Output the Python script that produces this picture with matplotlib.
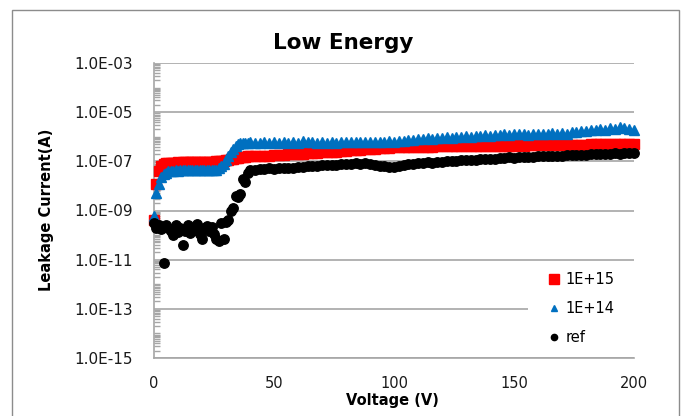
import numpy as np
import matplotlib
matplotlib.use("Agg")
import matplotlib.pyplot as plt
from matplotlib.lines import Line2D
from matplotlib.patches import Rectangle
from matplotlib.ticker import LogLocator, NullFormatter

plt.rcParams['font.family'] = ['DejaVu Sans']

# ---------------- data ----------------
voltage = list(range(0, 41)) + list(range(42, 201, 2))

current_1e15 = [
    4e-10, 1.2e-8, 4e-8, 6.5e-8, 8e-8, 8.4e-8, 8.6e-8, 8.8e-8, 8.7e-8, 8.9e-8,
    9.0e-8, 8.9e-8, 9.1e-8, 9.2e-8, 9.0e-8, 9.3e-8, 9.2e-8, 9.4e-8, 9.3e-8, 9.5e-8,
    9.4e-8, 9.6e-8, 9.5e-8, 9.7e-8, 9.6e-8, 9.8e-8, 9.9e-8, 1.0e-7, 1.02e-7, 1.05e-7,
    1.1e-7, 1.15e-7, 1.2e-7, 1.28e-7, 1.35e-7, 1.42e-7, 1.48e-7, 1.52e-7, 1.55e-7, 1.58e-7,
    1.6e-7,
    # 42..200 step 2
    1.6e-7, 1.62e-7, 1.66e-7, 1.7e-7, 1.75e-7, 1.8e-7, 1.85e-7, 1.9e-7, 1.95e-7, 2.0e-7,
    2.05e-7, 2.1e-7, 2.15e-7, 2.2e-7, 2.3e-7, 2.35e-7, 2.45e-7, 2.5e-7, 2.6e-7, 2.7e-7,
    2.8e-7, 2.9e-7, 3.0e-7, 3.1e-7, 3.2e-7, 3.3e-7, 3.4e-7, 3.5e-7, 3.6e-7, 3.7e-7,
    3.7e-7, 3.75e-7, 3.8e-7, 3.8e-7, 3.85e-7, 3.9e-7, 3.95e-7, 4.0e-7, 4.05e-7, 4.1e-7,
    4.1e-7, 4.15e-7, 4.1e-7, 4.2e-7, 4.2e-7, 4.25e-7, 4.2e-7, 4.3e-7, 4.25e-7, 4.3e-7,
    4.3e-7, 4.35e-7, 4.3e-7, 4.4e-7, 4.4e-7, 4.45e-7, 4.4e-7, 4.5e-7, 4.5e-7, 4.5e-7,
    4.55e-7, 4.6e-7, 4.55e-7, 4.6e-7, 4.65e-7, 4.7e-7, 4.65e-7, 4.75e-7, 4.8e-7, 4.8e-7,
    4.85e-7, 4.9e-7, 4.9e-7, 5.0e-7, 5.0e-7, 5.05e-7, 5.1e-7, 5.1e-7, 5.15e-7, 5.2e-7,
]

current_1e14 = [
    6e-10, 5e-9, 1.2e-8, 2.2e-8, 3e-8, 3.5e-8, 3.9e-8, 4.1e-8, 4.2e-8, 4.3e-8,
    4.2e-8, 4.4e-8, 4.3e-8, 4.4e-8, 4.3e-8, 4.5e-8, 4.4e-8, 4.3e-8, 4.5e-8, 4.4e-8,
    4.3e-8, 4.5e-8, 4.4e-8, 4.4e-8, 4.5e-8, 4.4e-8, 4.6e-8, 5.2e-8, 6.2e-8, 8e-8,
    1.1e-7, 1.6e-7, 2.3e-7, 3.2e-7, 4.2e-7, 5e-7, 5.5e-7, 5.7e-7, 5.8e-7, 5.7e-7,
    5.9e-7,
    # 42..200 step 2
    5.8e-7, 5.5e-7, 6.0e-7, 5.6e-7, 5.9e-7, 5.5e-7, 6.1e-7, 5.7e-7, 6.3e-7, 5.8e-7,
    6.5e-7, 5.9e-7, 6.2e-7, 5.6e-7, 6.0e-7, 5.7e-7, 6.3e-7, 5.8e-7, 6.4e-7, 6.0e-7,
    6.2e-7, 5.9e-7, 6.3e-7, 6.0e-7, 6.2e-7, 6.1e-7, 6.4e-7, 6.2e-7, 6.5e-7, 6.3e-7,
    6.8e-7, 6.6e-7, 7.2e-7, 7.5e-7, 8.0e-7, 7.8e-7, 8.6e-7, 8.4e-7, 9.2e-7, 8.8e-7,
    9.5e-7, 9.2e-7, 1.0e-6, 9.6e-7, 1.05e-6, 1.0e-6, 1.1e-6, 1.05e-6, 1.15e-6, 1.1e-6,
    1.2e-6, 1.15e-6, 1.25e-6, 1.2e-6, 1.3e-6, 1.25e-6, 1.3e-6, 1.22e-6, 1.35e-6, 1.28e-6,
    1.35e-6, 1.3e-6, 1.4e-6, 1.32e-6, 1.4e-6, 1.35e-6, 1.5e-6, 1.55e-6, 1.75e-6, 1.7e-6,
    1.9e-6, 1.85e-6, 2.1e-6, 1.95e-6, 2.3e-6, 2.1e-6, 2.6e-6, 2.2e-6, 2.1e-6, 1.9e-6,
]

current_ref = [
    3e-10, 2e-10, 2.5e-10, 1.8e-10, 7e-12, 2.5e-10, 2e-10, 1.5e-10, 1e-10, 2.5e-10,
    1.3e-10, 2e-10, 4e-11, 1.5e-10, 2.5e-10, 1.2e-10, 2e-10, 1.6e-10, 2.8e-10, 1.1e-10,
    7e-11, 2e-10, 2.4e-10, 1.4e-10, 2.2e-10, 1.1e-10, 7e-11, 6e-11, 3e-10, 7e-11,
    3.5e-10, 4e-10, 1e-9, 1.3e-9, 4e-9, 3.5e-9, 4.5e-9, 2e-8, 1.5e-8, 3.5e-8,
    4.5e-8,
    # 42..200 step 2
    4.5e-8, 5.0e-8, 4.8e-8, 5.2e-8, 5.0e-8, 5.4e-8, 5.2e-8, 5.6e-8, 5.5e-8, 6.0e-8,
    5.8e-8, 6.2e-8, 6.5e-8, 6.3e-8, 6.8e-8, 7.0e-8, 6.8e-8, 7.3e-8, 7.6e-8, 7.5e-8,
    8.0e-8, 8.2e-8, 8.0e-8, 8.3e-8, 7.6e-8, 7.0e-8, 6.5e-8, 6.2e-8, 6.0e-8, 6.1e-8,
    6.5e-8, 7.0e-8, 7.6e-8, 8.0e-8, 8.5e-8, 8.3e-8, 9.0e-8, 8.8e-8, 9.5e-8, 9.8e-8,
    1.0e-7, 1.05e-7, 1.02e-7, 1.1e-7, 1.12e-7, 1.1e-7, 1.18e-7, 1.2e-7, 1.25e-7, 1.22e-7,
    1.3e-7, 1.35e-7, 1.38e-7, 1.45e-7, 1.42e-7, 1.48e-7, 1.52e-7, 1.5e-7, 1.55e-7, 1.6e-7,
    1.58e-7, 1.62e-7, 1.65e-7, 1.7e-7, 1.68e-7, 1.75e-7, 1.78e-7, 1.8e-7, 1.85e-7, 1.82e-7,
    1.9e-7, 1.95e-7, 2.0e-7, 1.98e-7, 2.05e-7, 2.1e-7, 2.05e-7, 2.15e-7, 2.2e-7, 2.25e-7,
]

series_names = ["1E+15", "1E+14", "ref"]
series_colors = ["#ff0000", "#0070c0", "#000000"]

y_ticks = [1e-15, 1e-13, 1e-11, 1e-9, 1e-7, 1e-5, 1e-3]
y_tick_labels = ["1.0E-15", "1.0E-13", "1.0E-11", "1.0E-09", "1.0E-07", "1.0E-05", "1.0E-03"]
x_ticks = [0, 50, 100, 150, 200]

# ---------------- figure ----------------
W, H = 684, 416
fig = plt.figure(figsize=(W / 100, H / 100), dpi=100)
ax = fig.add_axes([154 / W, 1 - 358 / H, 480 / W, 295 / H])

grid_col = "#a6a6a6"
ax.plot(voltage, current_1e15, linestyle="none", marker="s", ms=7.0,
        color=series_colors[0], mec=series_colors[0], zorder=3, clip_on=False)
ax.plot(voltage, current_1e14, linestyle="none", marker="^", ms=7.5,
        color=series_colors[1], mec=series_colors[1], zorder=4, clip_on=False)
ax.plot(voltage, current_ref, linestyle="none", marker="o", ms=6.8,
        color=series_colors[2], mec=series_colors[2], zorder=5, clip_on=False)

ax.set_yscale("log")
ax.set_ylim(1e-15, 1e-3)
ax.set_xlim(0, 200)
ax.set_yticks(y_ticks)
ax.set_yticklabels(y_tick_labels)
ax.set_xticks(x_ticks)
ax.set_xticklabels([str(v) for v in x_ticks])
ax.yaxis.set_minor_locator(LogLocator(base=10, subs=np.arange(1, 10), numticks=100))
ax.yaxis.set_minor_formatter(NullFormatter())

ax.tick_params(axis="y", which="major", length=0, pad=15, labelsize=11, labelcolor="#1a1a1a")
ax.tick_params(axis="y", which="minor", direction="in", length=4, width=1.0, color=grid_col)
ax.tick_params(axis="x", which="major", length=0, pad=13, labelsize=10.5, labelcolor="#1a1a1a")

ax.grid(True, axis="y", which="major", color=grid_col, lw=1.2, zorder=0)
ax.set_axisbelow(True)
for s in ["top", "right"]:
    ax.spines[s].set_visible(False)
for s in ["left", "bottom"]:
    ax.spines[s].set_color(grid_col)
    ax.spines[s].set_linewidth(1.2)

fig.text(343 / W, 1 - 43 / H, "Low Energy", ha="center", va="center",
         fontsize=15.5, fontweight="bold")
fig.text(47 / W, 1 - 210 / H, "Leakage Current(A)", ha="center", va="center",
         rotation=90, fontsize=10.5, fontweight="bold")
fig.text(392 / W, 1 - 401 / H, "Voltage (V)", ha="center", va="center",
         fontsize=10.5, fontweight="bold")

# legend background (covers gridline like the reference)
ax.add_patch(Rectangle(((528 - 154) / 480, (358 - 352) / 295),
                       (640 - 528) / 480, (352 - 266) / 295, transform=ax.transAxes,
                       facecolor="white", edgecolor="none", zorder=2, clip_on=False))

handles = [
    Line2D([], [], linestyle="none", marker="s", ms=6.5, color=series_colors[0]),
    Line2D([], [], linestyle="none", marker="^", ms=5.0, color=series_colors[1]),
    Line2D([], [], linestyle="none", marker="o", ms=4.5, color=series_colors[2]),
]
leg = ax.legend(handles, series_names, loc="upper left", bbox_to_anchor=(0.805, 0.315),
                frameon=False, fontsize=10.5, handlelength=0.8, handletextpad=0.4,
                labelspacing=0.95, borderaxespad=0, borderpad=0.5)
leg.set_zorder(6)

# outer chart frame
fig.patches.append(Rectangle((12 / W, -0.05), 667 / W, 1 - 10 / H + 0.05,
                             transform=fig.transFigure, fill=False,
                             edgecolor="#8c8c8c", lw=1.0, zorder=0))

fig.savefig("out.png", dpi=100)
